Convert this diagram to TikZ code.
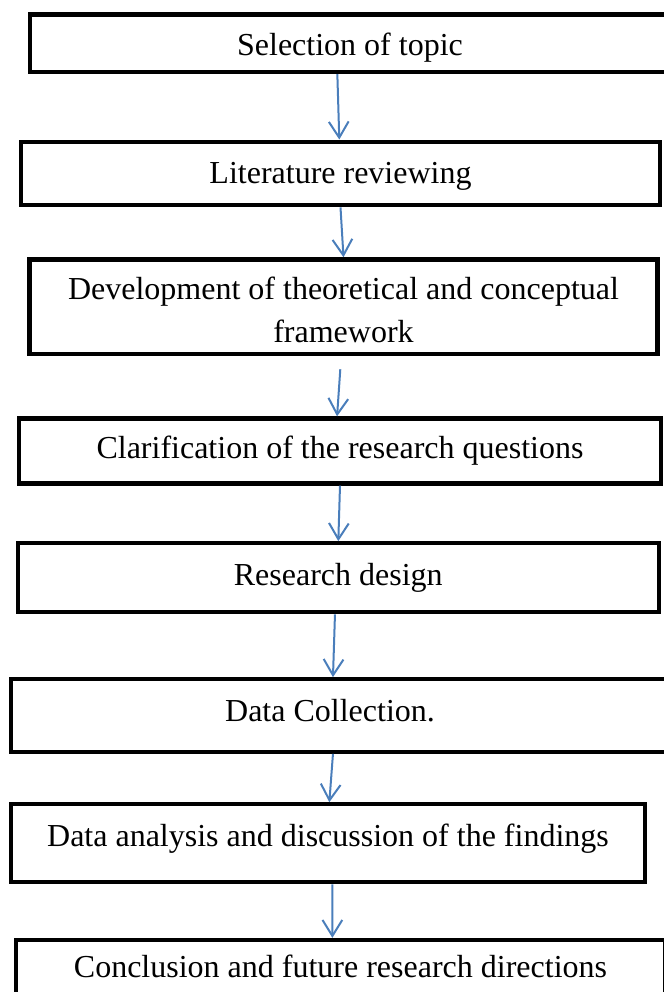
\documentclass[tikz,border=0pt]{standalone}
\usepackage{fontspec}
\setmainfont{Liberation Serif}
\usetikzlibrary{arrows.meta}
\definecolor{flowblue}{RGB}{74,126,187}
\tikzset{
  stepbox/.style={draw=black, line width=1.6pt, rectangle, align=center,
    font=\fontsize{12pt}{15.8pt}\selectfont, text height=8.5pt, text depth=2.8pt},
  flow/.style={draw=flowblue, line width=0.75pt, -{Straight Barb[length=6pt,width=7.4pt]}}
}

\begin{document}
\begin{tikzpicture}[x=0.375pt,y=-0.375pt]
    \useasboundingbox (0,0) rectangle (663,992);
    \node[stepbox, minimum width=240pt, minimum height=21.4pt, text height=12.1pt] (topic) at (350,43.2) {Selection of topic};
    \node[stepbox, minimum width=239.6pt, minimum height=23.85pt, text height=10.4pt] (review) at (340.5,173.5) {Literature reviewing};
    \node[stepbox, minimum width=235.5pt, minimum height=35.5pt, text height=26.5pt, text depth=0pt] (frame) at (343.5,306.7) {Development of theoretical and conceptual\\framework};
    \node[stepbox, minimum width=240.75pt, minimum height=24.4pt] (quest) at (340,451) {Clarification of the research questions};
    \node[stepbox, minimum width=240.5pt, minimum height=25.9pt] (design) at (338.3,577.8) {Research design};
    \node[stepbox, minimum width=247.9pt, minimum height=27.15pt, text depth=4.3pt] (collect) at (341.5,715.5) {Data Collection.\hspace*{8.6pt}};
    \node[stepbox, minimum width=237.75pt, minimum height=29.25pt, text depth=6.4pt] (analysis) at (328,843.3) {Data analysis and discussion of the findings};
    \node[stepbox, minimum width=243.4pt, minimum height=22.5pt] (concl) at (340.5,970) {Conclusion and future research directions};
    %\\
    \draw[flow] ([xshift=-4.75pt]topic.south) -- ([xshift=-0.45pt]review.north);
    \draw[flow] (review.south) -- (frame.north);
    \draw[flow] ([xshift=-1.2pt,yshift=-4.9pt]frame.south) -- ([xshift=-1.1pt]quest.north);
    \draw[flow] (quest.south) -- (design.north);
    \draw[flow] ([xshift=-1.25pt]design.south) -- ([xshift=-3.2pt]collect.north);
    \draw[flow] ([xshift=-3.2pt]collect.south) -- ([xshift=0.5pt]analysis.north);
    \draw[flow] ([xshift=1.65pt]analysis.south) -- ([xshift=-3.05pt]concl.north);
\end{tikzpicture}
\end{document}
